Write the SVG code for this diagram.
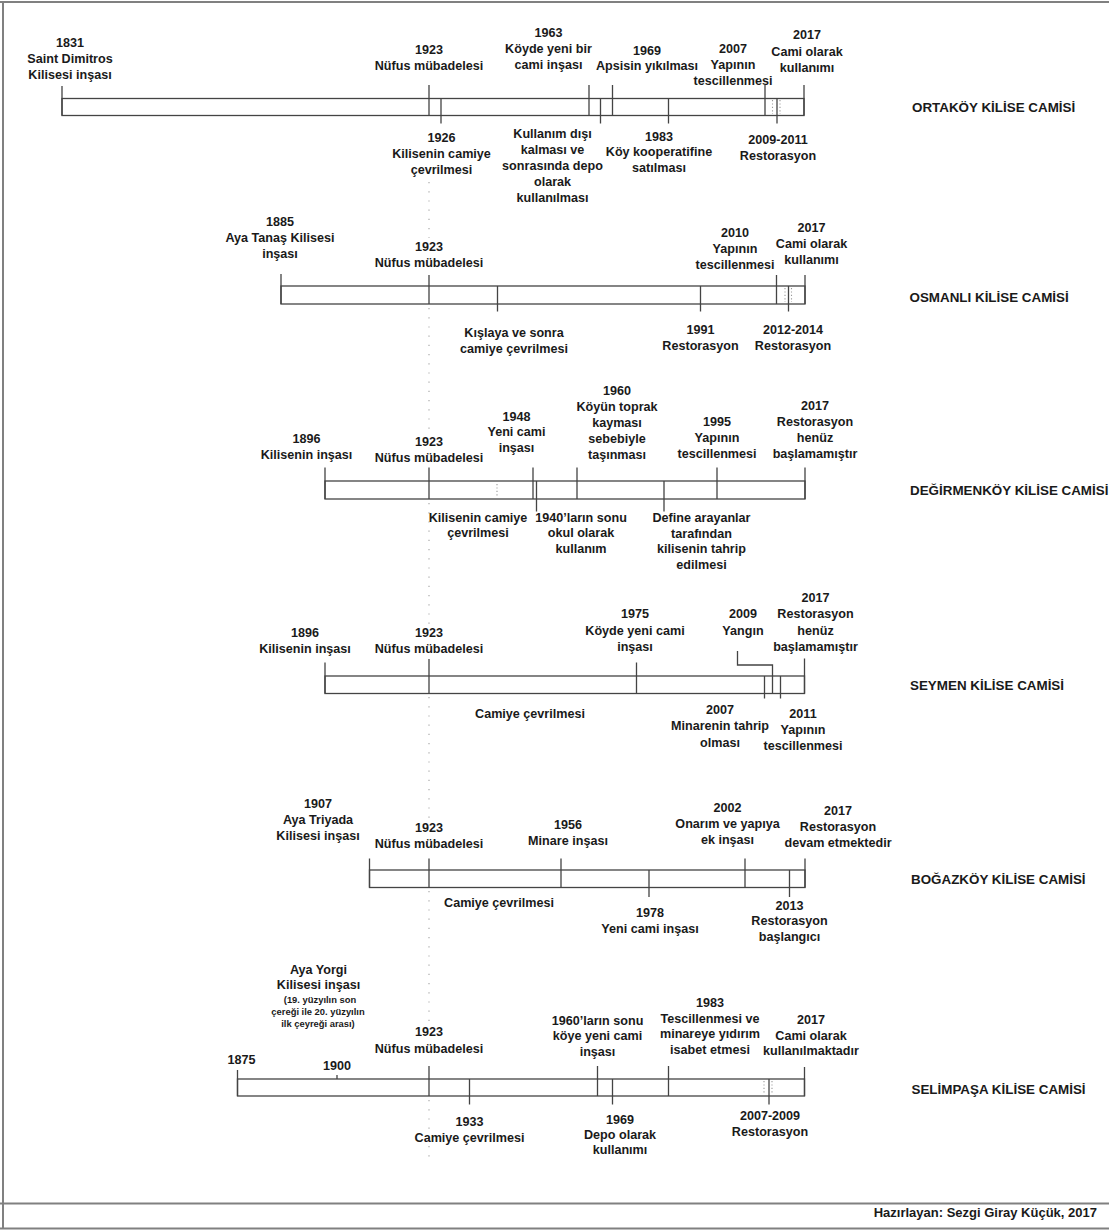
<svg xmlns="http://www.w3.org/2000/svg" width="1109" height="1231" viewBox="0 0 1109 1231">
<style>
.t{font-family:"Liberation Sans",Arial,sans-serif;font-weight:bold;font-size:12.6px;fill:#1a1a1a;text-anchor:middle}
.s{font-family:"Liberation Sans",Arial,sans-serif;font-weight:bold;font-size:9.4px;fill:#1a1a1a;text-anchor:middle}
.lbl{font-family:"Liberation Sans",Arial,sans-serif;font-weight:bold;font-size:13.4px;fill:#1a1a1a}
.ft{font-family:"Liberation Sans",Arial,sans-serif;font-weight:bold;font-size:13px;fill:#1a1a1a;text-anchor:end}
.bar{fill:#fff;stroke:#444;stroke-width:1.3}
.tk{stroke:#444;stroke-width:1.3;fill:none}
.dt{stroke:#999;stroke-width:1.1;stroke-dasharray:1.2 2.2}
.gd{stroke:#aaa;stroke-width:1.2;stroke-dasharray:1.2 8}
.fr{stroke:#808080;stroke-width:2;fill:none}
</style>
<rect width="1109" height="1231" fill="#fff"/>
<g id="frame">
<line class="fr" x1="0" y1="2" x2="1109" y2="2"/>
<line class="fr" x1="3" y1="2" x2="3" y2="1229"/>
<line class="fr" x1="0" y1="1203.5" x2="1109" y2="1203.5"/>
<line class="fr" x1="0" y1="1228.5" x2="1109" y2="1228.5"/>
</g>
<g id="connectors">
<line class="gd" x1="429" y1="182" x2="429" y2="238"/>
<line class="gd" x1="429" y1="308" x2="429" y2="432"/>
<line class="gd" x1="429" y1="503" x2="429" y2="624"/>
<line class="gd" x1="429" y1="697" x2="429" y2="820"/>
<line class="gd" x1="429" y1="891" x2="429" y2="1023"/>
<line class="gd" x1="429" y1="1100" x2="429" y2="1160"/>
</g>

<g id="ortakoy">
<rect class="bar" x="62" y="98.5" width="742" height="17"/>
<path class="tk" d="M62 86V115.5M429 85V115.5M589 85V115.5M612.5 85V115.5M765 85V115.5M804 85V115.5M441 98.5V123.5M600.5 98.5V123.5M668.5 98.5V123.5M777 98.5V123.5"/>
<path class="dt" d="M772.5 100V114M780 100V114"/>
<text class="t"><tspan x="70" y="47">1831</tspan><tspan x="70" y="63">Saint Dimitros</tspan><tspan x="70" y="79">Kilisesi inşası</tspan></text>
<text class="t"><tspan x="429" y="54">1923</tspan><tspan x="429" y="70">Nüfus mübadelesi</tspan></text>
<text class="t"><tspan x="548.5" y="37">1963</tspan><tspan x="548.5" y="53">Köyde yeni bir</tspan><tspan x="548.5" y="69">cami inşası</tspan></text>
<text class="t"><tspan x="647" y="55">1969</tspan><tspan x="647" y="70">Apsisin yıkılması</tspan></text>
<text class="t"><tspan x="733" y="53">2007</tspan><tspan x="733" y="69">Yapının</tspan><tspan x="733" y="85">tescillenmesi</tspan></text>
<text class="t"><tspan x="807" y="39">2017</tspan><tspan x="807" y="55.5">Cami olarak</tspan><tspan x="807" y="71.5">kullanımı</tspan></text>
<text class="t"><tspan x="441.5" y="142">1926</tspan><tspan x="441.5" y="158">Kilisenin camiye</tspan><tspan x="441.5" y="174">çevrilmesi</tspan></text>
<text class="t"><tspan x="552.5" y="137.5">Kullanım dışı</tspan><tspan x="552.5" y="153.5">kalması ve</tspan><tspan x="552.5" y="169.5">sonrasında depo</tspan><tspan x="552.5" y="185.5">olarak</tspan><tspan x="552.5" y="201.5">kullanılması</tspan></text>
<text class="t"><tspan x="659" y="140.5">1983</tspan><tspan x="659" y="156">Köy kooperatifine</tspan><tspan x="659" y="172">satılması</tspan></text>
<text class="t"><tspan x="778" y="144">2009-2011</tspan><tspan x="778" y="160">Restorasyon</tspan></text>
<text class="lbl" x="912" y="112">ORTAKÖY KİLİSE CAMİSİ</text>
</g>

<g id="osmanli">
<rect class="bar" x="281" y="286" width="524" height="18"/>
<path class="tk" d="M281 274V304M429 275V304M776.5 275V304M805 275V304M497.5 286V311.5M700.5 286V311.5M788.5 286V311.5"/>
<path class="dt" d="M785 288V302M791.5 288V302"/>
<text class="t"><tspan x="280" y="225.5">1885</tspan><tspan x="280" y="241.5">Aya Tanaş Kilisesi</tspan><tspan x="280" y="257.5">inşası</tspan></text>
<text class="t"><tspan x="429" y="250.5">1923</tspan><tspan x="429" y="266.5">Nüfus mübadelesi</tspan></text>
<text class="t"><tspan x="735" y="237">2010</tspan><tspan x="735" y="253">Yapının</tspan><tspan x="735" y="269">tescillenmesi</tspan></text>
<text class="t"><tspan x="811.5" y="232">2017</tspan><tspan x="811.5" y="248">Cami olarak</tspan><tspan x="811.5" y="264">kullanımı</tspan></text>
<text class="t"><tspan x="514" y="336.5">Kışlaya ve sonra</tspan><tspan x="514" y="352.5">camiye çevrilmesi</tspan></text>
<text class="t"><tspan x="700.5" y="333.5">1991</tspan><tspan x="700.5" y="350">Restorasyon</tspan></text>
<text class="t"><tspan x="793" y="333.5">2012-2014</tspan><tspan x="793" y="350">Restorasyon</tspan></text>
<text class="lbl" x="909.5" y="301.5">OSMANLI KİLİSE CAMİSİ</text>
</g>

<g id="degirmenkoy">
<rect class="bar" x="325" y="481" width="480" height="18"/>
<path class="tk" d="M325 467.5V499M429 467.5V499M533 467.5V499M577 467.5V499M717 467.5V499M805 467.5V499M536.5 481V511.5M664 481V511.5"/>
<path class="dt" d="M497 484V496"/>
<text class="t"><tspan x="306.5" y="443">1896</tspan><tspan x="306.5" y="459">Kilisenin inşası</tspan></text>
<text class="t"><tspan x="429" y="446">1923</tspan><tspan x="429" y="462">Nüfus mübadelesi</tspan></text>
<text class="t"><tspan x="516.5" y="420.5">1948</tspan><tspan x="516.5" y="436">Yeni cami</tspan><tspan x="516.5" y="452">inşası</tspan></text>
<text class="t"><tspan x="617" y="395">1960</tspan><tspan x="617" y="411">Köyün toprak</tspan><tspan x="617" y="427">kayması</tspan><tspan x="617" y="443">sebebiyle</tspan><tspan x="617" y="459">taşınması</tspan></text>
<text class="t"><tspan x="717" y="426">1995</tspan><tspan x="717" y="442">Yapının</tspan><tspan x="717" y="458">tescillenmesi</tspan></text>
<text class="t"><tspan x="815" y="410">2017</tspan><tspan x="815" y="426">Restorasyon</tspan><tspan x="815" y="442">henüz</tspan><tspan x="815" y="458">başlamamıştır</tspan></text>
<text class="t"><tspan x="478" y="521.5">Kilisenin camiye</tspan><tspan x="478" y="537">çevrilmesi</tspan></text>
<text class="t"><tspan x="581" y="521.5">1940’ların sonu</tspan><tspan x="581" y="537">okul olarak</tspan><tspan x="581" y="553">kullanım</tspan></text>
<text class="t"><tspan x="701.5" y="521.5">Define arayanlar</tspan><tspan x="701.5" y="537.5">tarafından</tspan><tspan x="701.5" y="553">kilisenin tahrip</tspan><tspan x="701.5" y="569">edilmesi</tspan></text>
<text class="lbl" x="910" y="495">DEĞİRMENKÖY KİLİSE CAMİSİ</text>
</g>

<g id="seymen">
<rect class="bar" x="325" y="676" width="479.5" height="17.5"/>
<path class="tk" d="M325 662.5V693.5M429 659V693.5M636.5 662.5V693.5M804.5 658.5V693.5M764.5 676V698.5M780.5 676V698.5M737.5 651V665H772.5V693.5"/>
<text class="t"><tspan x="305" y="637">1896</tspan><tspan x="305" y="653">Kilisenin inşası</tspan></text>
<text class="t"><tspan x="429" y="637">1923</tspan><tspan x="429" y="653">Nüfus mübadelesi</tspan></text>
<text class="t"><tspan x="635" y="618">1975</tspan><tspan x="635" y="634.5">Köyde yeni cami</tspan><tspan x="635" y="650.5">inşası</tspan></text>
<text class="t"><tspan x="743" y="618">2009</tspan><tspan x="743" y="634.5">Yangın</tspan></text>
<text class="t"><tspan x="815.5" y="602">2017</tspan><tspan x="815.5" y="618">Restorasyon</tspan><tspan x="815.5" y="634.5">henüz</tspan><tspan x="815.5" y="650.5">başlamamıştır</tspan></text>
<text class="t" x="530" y="718">Camiye çevrilmesi</text>
<text class="t"><tspan x="720" y="714">2007</tspan><tspan x="720" y="730">Minarenin tahrip</tspan><tspan x="720" y="746.5">olması</tspan></text>
<text class="t"><tspan x="803" y="717.5">2011</tspan><tspan x="803" y="733.5">Yapının</tspan><tspan x="803" y="749.5">tescillenmesi</tspan></text>
<text class="lbl" x="910" y="690">SEYMEN KİLİSE CAMİSİ</text>
</g>

<g id="bogazkoy">
<rect class="bar" x="369.5" y="870" width="435.5" height="17.5"/>
<path class="tk" d="M369.5 858.5V887.5M429 858.5V887.5M561 858.5V887.5M745 858.5V887.5M805 858.5V887.5M649 870V897M789.5 870V897"/>
<text class="t"><tspan x="318" y="807.5">1907</tspan><tspan x="318" y="823.5">Aya Triyada</tspan><tspan x="318" y="839.5">Kilisesi inşası</tspan></text>
<text class="t"><tspan x="429" y="832">1923</tspan><tspan x="429" y="848">Nüfus mübadelesi</tspan></text>
<text class="t"><tspan x="568" y="828.5">1956</tspan><tspan x="568" y="844.5">Minare inşası</tspan></text>
<text class="t"><tspan x="727.5" y="812">2002</tspan><tspan x="727.5" y="828">Onarım ve yapıya</tspan><tspan x="727.5" y="844">ek inşası</tspan></text>
<text class="t"><tspan x="838" y="815">2017</tspan><tspan x="838" y="831">Restorasyon</tspan><tspan x="838" y="847">devam etmektedir</tspan></text>
<text class="t" x="499" y="906.5">Camiye çevrilmesi</text>
<text class="t"><tspan x="650" y="917">1978</tspan><tspan x="650" y="932.5">Yeni cami inşası</tspan></text>
<text class="t"><tspan x="789.5" y="909.5">2013</tspan><tspan x="789.5" y="925">Restorasyon</tspan><tspan x="789.5" y="941">başlangıcı</tspan></text>
<text class="lbl" x="911" y="884">BOĞAZKÖY KİLİSE CAMİSİ</text>
</g>

<g id="selimpasa">
<rect class="bar" x="237.5" y="1079" width="567" height="17"/>
<path class="tk" d="M237.5 1070V1096M429 1066V1096M597.5 1066V1096M668.5 1066V1096M804.5 1067V1096M337 1075V1079M469.5 1079V1104.5M612.5 1079V1104.5M769 1079V1104.5"/>
<path class="dt" d="M764 1081V1094M772 1081V1094"/>
<text class="t"><tspan x="318.5" y="973.5">Aya Yorgi</tspan><tspan x="318.5" y="989">Kilisesi inşası</tspan></text>
<text class="s"><tspan x="320" y="1002.5">(19. yüzyılın son</tspan><tspan x="318" y="1014.5">çereği ile 20. yüzyılın</tspan><tspan x="318" y="1026.5">ilk çeyreği arası)</tspan></text>
<text class="t" x="241.5" y="1064">1875</text>
<text class="t" x="337" y="1070">1900</text>
<text class="t"><tspan x="429" y="1036">1923</tspan><tspan x="429" y="1052.5">Nüfus mübadelesi</tspan></text>
<text class="t"><tspan x="597.5" y="1024.5">1960’ların sonu</tspan><tspan x="597.5" y="1040">köye yeni cami</tspan><tspan x="597.5" y="1055.5">inşası</tspan></text>
<text class="t"><tspan x="710" y="1007">1983</tspan><tspan x="710" y="1022.5">Tescillenmesi ve</tspan><tspan x="710" y="1038">minareye yıdırım</tspan><tspan x="710" y="1053.5">isabet etmesi</tspan></text>
<text class="t"><tspan x="811" y="1023.5">2017</tspan><tspan x="811" y="1039.5">Cami olarak</tspan><tspan x="811" y="1055">kullanılmaktadır</tspan></text>
<text class="t"><tspan x="469.5" y="1126">1933</tspan><tspan x="469.5" y="1142">Camiye çevrilmesi</tspan></text>
<text class="t"><tspan x="620" y="1123.5">1969</tspan><tspan x="620" y="1138.5">Depo olarak</tspan><tspan x="620" y="1154">kullanımı</tspan></text>
<text class="t"><tspan x="770" y="1120">2007-2009</tspan><tspan x="770" y="1136">Restorasyon</tspan></text>
<text class="lbl" x="911.5" y="1093.5">SELİMPAŞA KİLİSE CAMİSİ</text>
</g>

<g id="footer">
<text class="ft" x="1097" y="1217">Hazırlayan: Sezgi Giray Küçük, 2017</text>
</g>
</svg>
